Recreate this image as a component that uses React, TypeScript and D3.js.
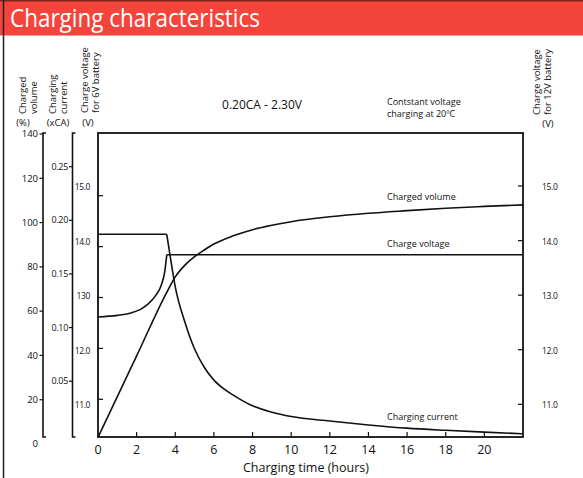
import React from 'react';
import * as d3 from 'd3';

// charging time (hours) vs. each curve
const volumeHours = [0, 2, 3.6, 4.0, 4.5, 5.0, 5.5, 6.0, 7.0, 8.0, 9.0, 10, 12, 14, 16, 18, 20, 22];
const volumePct = [3, 39.8, 69.2, 75.5, 80.8, 84.6, 87.6, 90.3, 94.0, 96.8, 98.8, 100.4, 102.6, 104.2, 105.4, 106.5, 107.3, 108];

const voltageHours = [0, 1, 1.66, 2.2, 2.6, 3.0, 3.25, 3.45, 3.56, 22];
const voltage12 = [12.6, 12.63, 12.67, 12.74, 12.84, 13.0, 13.16, 13.42, 13.74, 13.74];

const currentHours = [0, 3.56, 3.75, 4.0, 4.5, 5.0, 5.5, 6.0, 6.5, 7.0, 8.0, 9.0, 10, 12, 14, 16, 18, 20, 22];
const currentCA = [0.187, 0.187, 0.165, 0.138, 0.105, 0.08, 0.063, 0.051, 0.043, 0.037, 0.027, 0.021, 0.017, 0.0128, 0.0092, 0.0062, 0.0042, 0.0025, 0.001];

const cvEnd = 3.56;

const hourTicks = [0, 2, 4, 6, 8, 10, 12, 14, 16, 18, 20];
const pctTicks = [0, 20, 40, 60, 80, 100, 120, 140];
const caTicks = [0.05, 0.1, 0.15, 0.2, 0.25];
const caLabels = ['0.05', '0.10', '0.15', '0.20', '0.25'];
const voltTicks = [15, 14, 13, 12, 11];
const volt6Labels = ['15.0', '14.0', '130', '12.0', '11.0'];
const volt12Labels = ['15.0', '14.0', '13.0', '12.0', '11.0'];

const font = "'Open Sans', sans-serif";

const App = () => {
  const width = 583;
  const height = 478;
  const left = 98;
  const right = 523;
  const top = 133;
  const bottom = 437;

  const x = d3.scaleLinear().domain([0, 22]).range([left, right]);
  const yPct = d3.scaleLinear().domain([0, 140]).range([444, 134]);
  const yCA = d3.scaleLinear().domain([0, 0.25]).range([434.8, 166.7]);
  const y12 = d3.scaleLinear().domain([11, 15]).range([404.3, 186]);
  // the 6V ticks sit on a slightly tighter grid than their labels
  const y6 = d3.scaleLinear().domain([11, 15]).range([399.3, 195.7]);

  const smooth = d3.line<[number, number]>().curve(d3.curveMonotoneX);
  const straight = d3.line<[number, number]>();

  const volumePts = volumeHours.map((h, i) => [x(h), yPct(volumePct[i])] as [number, number]);
  const voltPts = voltageHours.map((h, i) => [h, x(h), y12(voltage12[i])]);
  const voltRise = voltPts.filter((d) => d[0] <= cvEnd).map((d) => [d[1], d[2]] as [number, number]);
  const voltFlat = voltPts.filter((d) => d[0] >= cvEnd).map((d) => [d[1], d[2]] as [number, number]);
  const curPts = currentHours.map((h, i) => [h, x(h), yCA(currentCA[i])]);
  const curFlat = curPts.filter((d) => d[0] <= cvEnd).map((d) => [d[1], d[2]] as [number, number]);
  const curDecay = curPts.filter((d) => d[0] >= cvEnd).map((d) => [d[1], d[2]] as [number, number]);

  const stroke = '#111';

  const rotLabel = (lines: string[], xs: number[], yBase: number) =>
    lines.map((t, i) => (
      <text
        key={t}
        transform={`translate(${xs[i]}, ${yBase}) rotate(-90)`}
        fontSize={9.5}
        fontFamily={font}
        fill={stroke}
      >
        {t}
      </text>
    ));

  return (
    <svg
      width={width}
      height={height}
      style={{ position: 'absolute', left: 0, top: 0, background: '#fff' }}
    >
      {/* header */}
      <rect x={0} y={0} width={width} height={35} fill="#f5443c" />
      <rect x={0} y={0} width={width} height={1.5} fill="#7d2620" />
      <rect x={0} y={35} width={width} height={1} fill="#ff9c94" />
      <text
        x={10}
        y={27}
        fontSize={25}
        fontFamily={font}
        fill="#fff"
        textLength={250}
        lengthAdjust="spacingAndGlyphs"
      >
        Charging characteristics
      </text>
      <line x1={3.5} x2={3.5} y1={0} y2={height} stroke="#222" strokeWidth={1.5} />

      {/* axis titles */}
      {rotLabel(['Charged', 'volume'], [26, 37], 114)}
      {rotLabel(['Charging', 'current'], [56, 67], 114)}
      {rotLabel(['Charge voltage', 'for 6V battery'], [88, 99], 113)}
      {rotLabel(['Charge voltage', 'for 12V battery'], [540, 551], 115)}
      <g fontSize={9.5} fontFamily={font} fill={stroke}>
        <text x={23} y={126} textAnchor="middle">(%)</text>
        <text x={58} y={126} textAnchor="middle">(xCA)</text>
        <text x={88} y={126} textAnchor="middle">(V)</text>
        <text x={548} y={127} textAnchor="middle">(V)</text>
      </g>

      {/* charged volume axis */}
      <path d={`M46,${top}H43V${bottom}H46`} fill="none" stroke={stroke} strokeWidth={1.6} />
      {pctTicks.map((v) => (
        <g key={v}>
          {v > 0 && <line x1={39.5} x2={43} y1={yPct(v)} y2={yPct(v)} stroke={stroke} strokeWidth={1.2} />}
          <text x={38} y={yPct(v)} dy="0.35em" textAnchor="end" fontSize={9.5} fontFamily={font} fill={stroke}>
            {v}
          </text>
        </g>
      ))}

      {/* charging current axis */}
      <path d={`M75.5,${top}H72.5V${bottom}H75.5`} fill="none" stroke={stroke} strokeWidth={1.6} />
      {caTicks.map((v, i) => (
        <g key={v}>
          <line x1={69} x2={72.5} y1={yCA(v)} y2={yCA(v)} stroke={stroke} strokeWidth={1.2} />
          <text x={68} y={yCA(v)} dy="0.35em" textAnchor="end" fontSize={9} letterSpacing={-0.3} fontFamily={font} fill={stroke}>
            {caLabels[i]}
          </text>
        </g>
      ))}

      {/* plot frame */}
      <rect x={left} y={top} width={right - left} height={bottom - top} fill="none" stroke={stroke} strokeWidth={1.8} />

      {/* 6V axis */}
      {voltTicks.map((v, i) => (
        <g key={v}>
          <line x1={left} x2={left + 5} y1={y6(v)} y2={y6(v)} stroke={stroke} strokeWidth={1.2} />
          <text x={90} y={y12(v) + 1} dy="0.35em" textAnchor="end" fontSize={8.5} letterSpacing={-0.4} fontFamily={font} fill={stroke}>
            {volt6Labels[i]}
          </text>
        </g>
      ))}

      {/* 12V axis */}
      {voltTicks.map((v, i) => (
        <g key={v}>
          <line x1={right - 5} x2={right} y1={y12(v)} y2={y12(v)} stroke={stroke} strokeWidth={1.2} />
          <text x={542} y={y12(v) + 1} dy="0.35em" fontSize={8.5} letterSpacing={-0.3} fontFamily={font} fill={stroke}>
            {volt12Labels[i]}
          </text>
        </g>
      ))}

      {/* time axis */}
      {hourTicks.map((h) => (
        <g key={h}>
          {h > 0 && <line x1={x(h)} x2={x(h)} y1={bottom} y2={bottom - 5} stroke={stroke} strokeWidth={1.2} />}
          <text x={x(h)} y={454} textAnchor="middle" fontSize={12.5} fontFamily={font} fill={stroke}>
            {h}
          </text>
        </g>
      ))}
      <text x={306} y={472} textAnchor="middle" fontSize={12.5} fontFamily={font} fill={stroke}>
        Charging time (hours)
      </text>

      {/* curves */}
      <g fill="none" stroke={stroke} strokeWidth={1.6}>
        <path d={smooth(volumePts) ?? ''} />
        <path d={smooth(voltRise) ?? ''} />
        <path d={straight(voltFlat) ?? ''} />
        <path d={straight(curFlat) ?? ''} />
        <path d={smooth(curDecay) ?? ''} />
      </g>

      {/* annotations */}
      <g fontFamily={font} fill={stroke}>
        <text x={262} y={109} textAnchor="middle" fontSize={12}>0.20CA - 2.30V</text>
        <text x={387} y={105} fontSize={9}>Contstant voltage</text>
        <text x={387} y={117} fontSize={9}>charging at 20ºC</text>
        <text x={387} y={200} fontSize={9}>Charged volume</text>
        <text x={387} y={247} fontSize={9}>Charge voltage</text>
        <text x={387} y={420} fontSize={9}>Charging current</text>
      </g>
    </svg>
  );
};

export default App;
